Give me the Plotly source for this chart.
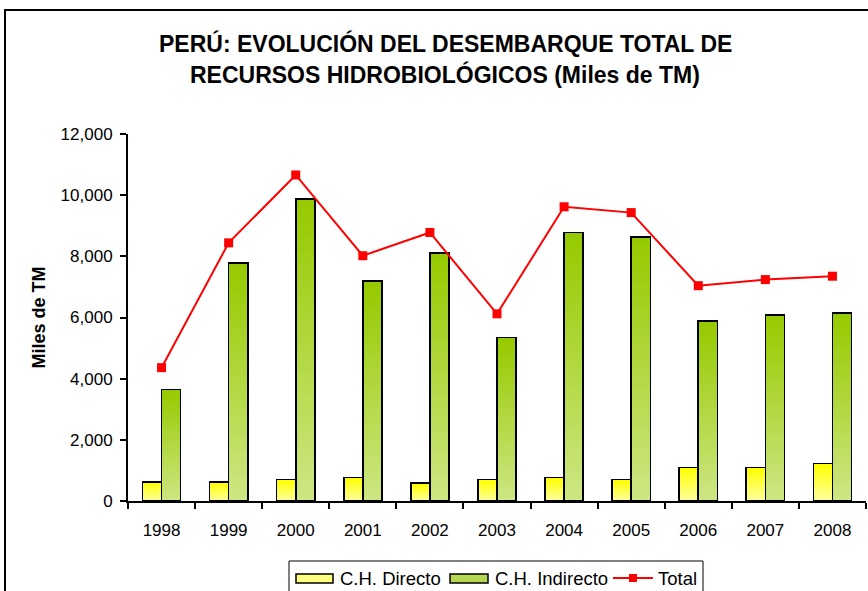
import plotly.graph_objects as go

# ---------------- data ----------------
years = ["1998", "1999", "2000", "2001", "2002", "2003", "2004", "2005", "2006", "2007", "2008"]
ch_directo = [630, 630, 700, 770, 580, 700, 770, 700, 1090, 1090, 1220]
ch_indirecto = [3650, 7780, 9870, 7190, 8110, 5340, 8780, 8640, 5880, 6080, 6140]
total = [4360, 8440, 10660, 8020, 8780, 6120, 9620, 9430, 7040, 7240, 7350]
y_ticks = [0, 2000, 4000, 6000, 8000, 10000, 12000]

# ---------------- geometry (pixels) ----------------
W, H = 868, 591
L, R, T, B = 128, 866, 134, 501


def px(x):
    return (x - L) / (R - L)


def py(y):
    return (B - y) / (B - T)


FONT = "Liberation Sans, Arial, sans-serif"
NSEG = 40


def mix(c1, c2, t):
    return "rgb(%d,%d,%d)" % tuple(round(a + (b - a) * t) for a, b in zip(c1, c2))


series = [
    ("d", ch_directo, (255, 255, 0), (255, 255, 160)),
    ("i", ch_indirecto, (150, 202, 0), (205, 230, 130)),
]

fig = go.Figure()

# gradient-filled bars built from stacked slices of each value
for grp, vals, top, bottom in series:
    for k in range(NSEG):
        t = k / (NSEG - 1)  # 0 bottom -> 1 top
        fig.add_trace(go.Bar(
            x=years, y=[v / NSEG for v in vals], offsetgroup=grp,
            marker=dict(color=mix(bottom, top, t), line=dict(width=0)),
            showlegend=False, hoverinfo="skip", xaxis="x", yaxis="y",
        ))

# outlines on overlaid axis
for grp, vals, top, bottom in series:
    fig.add_trace(go.Bar(
        x=years, y=vals, offsetgroup=grp,
        marker=dict(color="rgba(0,0,0,0)", line=dict(color="black", width=1.6)),
        showlegend=False, xaxis="x2", yaxis="y",
    ))

fig.add_trace(go.Scatter(
    x=years, y=total, mode="lines+markers", xaxis="x2", yaxis="y",
    line=dict(color="#ff0000", width=2),
    marker=dict(symbol="square", size=9, color="#ff0000"),
    showlegend=False,
))

axis_common = dict(showgrid=False, zeroline=False, showline=True, linecolor="black",
                   linewidth=2, ticks="outside", tickcolor="black", tickwidth=1.5,
                   tickfont=dict(family=FONT, size=17, color="black"))

xrange = [-0.5, len(years) - 0.5]

fig.update_layout(
    width=W, height=H,
    margin=dict(l=L, r=W - R, t=T, b=H - B, pad=0),
    paper_bgcolor="white", plot_bgcolor="white",
    barmode="stack", bargap=0.43, bargroupgap=0,
    showlegend=False,
    xaxis=dict(type="category", tickson="boundaries", ticklen=6, range=xrange,
               autorange=False, ticklabelstandoff=13, **axis_common),
    xaxis2=dict(type="category", overlaying="x", range=xrange, autorange=False,
                visible=False),
    yaxis=dict(range=[0, 12000], tickvals=y_ticks, tickformat=",d", ticklen=6,
               ticklabelstandoff=4,
               title=dict(text="<b>Miles de TM</b>", font=dict(family=FONT, size=18, color="black"),
                          standoff=10),
               **axis_common),
    font=dict(family=FONT, color="black"),
)

shapes = []
annotations = []

# outer chart border
shapes.append(dict(type="rect", xref="paper", yref="paper",
                   x0=px(5), x1=px(900), y0=py(10), y1=py(640),
                   line=dict(color="black", width=2), fillcolor="rgba(0,0,0,0)", layer="above"))

# title
for text, yy in [("PERÚ: EVOLUCIÓN DEL DESEMBARQUE TOTAL DE", 44),
                 ("RECURSOS HIDROBIOLÓGICOS (Miles de TM)", 75)]:
    annotations.append(dict(text="<b>%s</b>" % text, xref="paper", yref="paper",
                            x=px(445), y=py(yy), xanchor="center", yanchor="middle",
                            showarrow=False, font=dict(family=FONT, size=23, color="black")))

# legend box
shapes.append(dict(type="rect", xref="paper", yref="paper",
                   x0=px(289), x1=px(703), y0=py(561), y1=py(640),
                   line=dict(color="black", width=1), fillcolor="white"))
legend_fill = [(255, 255, 128), (180, 214, 80)]
leg_items = [("C.H. Directo", 296, 333, 338), ("C.H. Indirecto", 450, 488, 493)]
for (label, x0, x1, tx), col in zip(leg_items, legend_fill):
    shapes.append(dict(type="rect", xref="paper", yref="paper",
                       x0=px(x0), x1=px(x1), y0=py(583), y1=py(574),
                       line=dict(color="black", width=1.5),
                       fillcolor="rgb(%d,%d,%d)" % col))
    annotations.append(dict(text=label, xref="paper", yref="paper", x=px(tx), y=py(578),
                            xanchor="left", yanchor="middle", showarrow=False,
                            font=dict(family=FONT, size=18.5, color="black")))
shapes.append(dict(type="line", xref="paper", yref="paper", x0=px(613), x1=px(653),
                   y0=py(578), y1=py(578), line=dict(color="#ff0000", width=2)))
shapes.append(dict(type="rect", xref="paper", yref="paper", x0=px(629), x1=px(637),
                   y0=py(582), y1=py(574), line=dict(width=0), fillcolor="#ff0000"))
annotations.append(dict(text="Total", xref="paper", yref="paper", x=px(656), y=py(578),
                        xanchor="left", yanchor="middle", showarrow=False,
                        font=dict(family=FONT, size=18.5, color="black")))

fig.update_layout(shapes=shapes, annotations=annotations)

fig.write_html("out.html", config={"displayModeBar": False},
               post_script="document.body.style.margin='0';document.body.style.overflow='hidden';")
